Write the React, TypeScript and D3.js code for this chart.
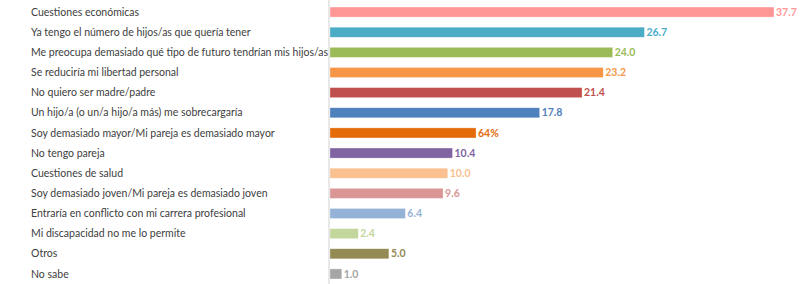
import React from 'react';
import { scaleBand, scaleLinear } from 'd3';

const width = 810;
const height = 284;

const categories = [
  'Cuestiones económicas',
  'Ya tengo el número de hijos/as que quería tener',
  'Me preocupa demasiado qué tipo de futuro tendrían mis hijos/as',
  'Se reduciría mi libertad personal',
  'No quiero ser madre/padre',
  'Un hijo/a (o un/a hijo/a más) me sobrecargaría',
  'Soy demasiado mayor/Mi pareja es demasiado mayor',
  'No tengo pareja',
  'Cuestiones de salud',
  'Soy demasiado joven/Mi pareja es demasiado joven',
  'Entraría en conflicto con mi carrera profesional',
  'Mi discapacidad no me lo permite',
  'Otros',
  'No sabe',
];
const values = [37.7, 26.7, 24.0, 23.2, 21.4, 17.8, 12.4, 10.4, 10.0, 9.6, 6.4, 2.4, 5.0, 1.0];
// labels as printed in the source (one of them reads "64%")
const valueLabels = ['37.7', '26.7', '24.0', '23.2', '21.4', '17.8', '64%', '10.4', '10.0', '9.6', '6.4', '2.4', '5.0', '1.0'];
const colors = [
  '#ff9797', '#4bacc6', '#9bbb59', '#f79646', '#c0504d', '#4f81bd', '#e36c09',
  '#8064a2', '#fac090', '#d99694', '#95b3d7', '#c3d69b', '#948a54', '#a6a6a6',
];

const axisX = 329;

export default function App() {
  const y = scaleBand<string>()
    .domain(categories)
    .range([2, height])
    .paddingInner(0.5)
    .paddingOuter(0.25);

  const x = scaleLinear().domain([0, 37.7]).range([axisX + 1, 774]);

  return (
    <svg
      width={width}
      height={height}
      style={{ position: 'absolute', left: 0, top: 0, background: '#fff' }}
      fontFamily="Lato, 'Open Sans', sans-serif"
    >
      {categories.map((c, i) => {
        const yc = (y(c) ?? 0) + y.bandwidth() / 2;
        return (
          <g key={c}>
            <text x={31} y={yc} dy="0.35em" fontSize={10.5} fill="#404040">
              {c}
            </text>
            <rect
              x={x(0)}
              y={y(c)}
              width={x(values[i]) - x(0)}
              height={y.bandwidth()}
              fill={colors[i]}
              stroke="#ffffff"
              strokeOpacity={0.5}
              strokeWidth={0.6}
            />
            <text
              x={x(values[i]) + 2}
              y={yc}
              dy="0.35em"
              fontSize={10.5}
              fontWeight="bold"
              fill={colors[i]}
            >
              {valueLabels[i]}
            </text>
          </g>
        );
      })}
      <line x1={axisX} x2={axisX} y1={0} y2={height} stroke="#d9d9d9" strokeWidth={1.2} />
    </svg>
  );
}
